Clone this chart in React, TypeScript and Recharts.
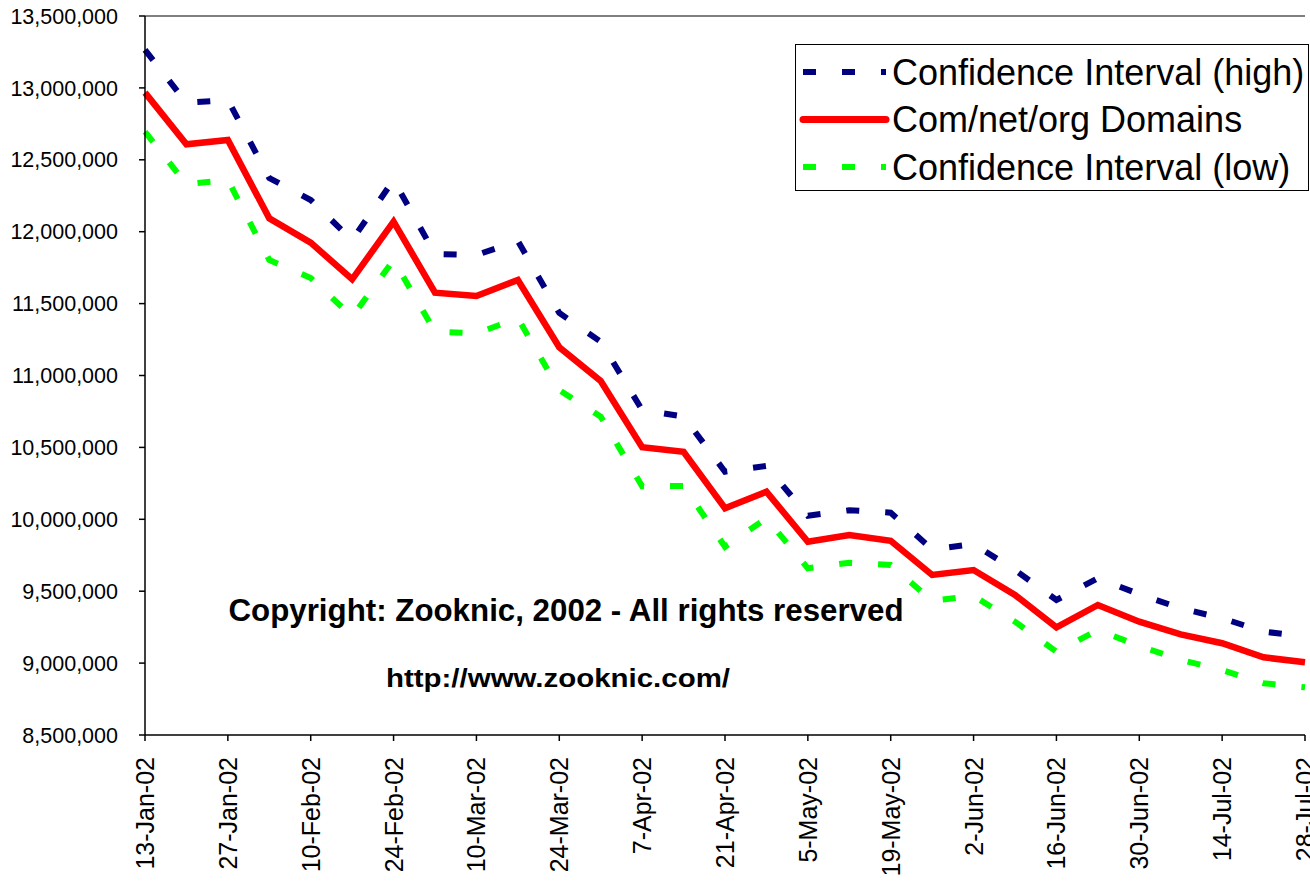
import { LineChart, Line, XAxis, YAxis, ReferenceLine } from "recharts";

// weekly samples, Jan - Jul 2002
const dates = [
  "13-Jan-02", "20-Jan-02", "27-Jan-02", "3-Feb-02", "10-Feb-02", "17-Feb-02", "24-Feb-02",
  "3-Mar-02", "10-Mar-02", "17-Mar-02", "24-Mar-02", "31-Mar-02", "7-Apr-02", "14-Apr-02",
  "21-Apr-02", "28-Apr-02", "5-May-02", "12-May-02", "19-May-02", "26-May-02", "2-Jun-02",
  "9-Jun-02", "16-Jun-02", "23-Jun-02", "30-Jun-02", "7-Jul-02", "14-Jul-02", "21-Jul-02",
  "28-Jul-02",
];

const domains = [
  12967000, 12608000, 12638000, 12093000, 11924000, 11669000, 12070000,
  11576000, 11553000, 11664000, 11196000, 10962000, 10501000, 10470000,
  10077000, 10192000, 9844000, 9891000, 9851000, 9613000, 9647000,
  9474000, 9249000, 9404000, 9288000, 9200000, 9138000, 9040000,
  9006000,
];

const ciHigh = [
  13264000, 12897000, 12916000, 12373000, 12220000, 11942000, 12360000,
  11845000, 11838000, 11935000, 11435000, 11235000, 10760000, 10714000,
  10331000, 10371000, 10025000, 10063000, 10046000, 9791000, 9828000,
  9647000, 9439000, 9590000, 9479000, 9381000, 9312000, 9219000,
  9184000,
];

const ciLow = [
  12695000, 12330000, 12360000, 11803000, 11678000, 11409000, 11803000,
  11305000, 11293000, 11398000, 10899000, 10714000, 10230000, 10232000,
  9809000, 10007000, 9659000, 9698000, 9682000, 9434000, 9467000,
  9288000, 9079000, 9230000, 9119000, 9022000, 8952000, 8860000,
  8832000,
];

const yTicks = [
  8500000, 9000000, 9500000, 10000000, 10500000, 11000000,
  11500000, 12000000, 12500000, 13000000, 13500000,
];

const legendItems = [
  { label: "Confidence Interval (high)", color: "#000080", dash: "13 26", width: 6 },
  { label: "Com/net/org Domains", color: "#FF0000", dash: undefined, width: 7 },
  { label: "Confidence Interval (low)", color: "#00FF00", dash: "13 26", width: 6 },
];

const FONT = "'Liberation Sans', Arial, Helvetica, sans-serif";

const chartData = dates.map((d, i) => ({
  date: d,
  high: ciHigh[i],
  domains: domains[i],
  low: ciLow[i],
}));

const XTick = ({ x, y, payload }: any) => (
  <text
    x={x}
    y={y}
    transform={`rotate(-90 ${x} ${y})`}
    textAnchor="end"
    dominantBaseline="central"
    fontSize={25}
    fontFamily={FONT}
    fill="#000"
  >
    {payload.value}
  </text>
);

const Overlay = () => (
  <svg
    width={1330}
    height={883}
    style={{ position: "absolute", left: 0, top: 0, pointerEvents: "none" }}
  >
    {/* legend box */}
    <rect x={795.5} y={44.5} width={513} height={146} fill="#fff" stroke="#000" strokeWidth={1} />
    {legendItems.map((item, i) => {
      const cy = 72 + i * 47.5;
      return (
        <g key={item.label}>
          <line
            x1={803}
            x2={886}
            y1={cy}
            y2={cy}
            stroke={item.color}
            strokeWidth={item.width}
            strokeDasharray={item.dash}
            strokeLinecap={item.dash ? "butt" : "round"}
          />
          <text x={892} y={cy} dominantBaseline="central" fontSize={36} fontFamily={FONT} fill="#000">
            {item.label}
          </text>
        </g>
      );
    })}
    <text
      x={566}
      y={621}
      textAnchor="middle"
      fontSize={31}
      fontWeight="bold"
      fontFamily={FONT}
      textLength={675}
      lengthAdjust="spacingAndGlyphs"
      fill="#000"
    >
      Copyright: Zooknic, 2002 - All rights reserved
    </text>
    <text
      x={558}
      y={687}
      textAnchor="middle"
      fontSize={25}
      fontWeight="bold"
      fontFamily={FONT}
      textLength={344}
      lengthAdjust="spacingAndGlyphs"
      fill="#000"
    >
      http://www.zooknic.com/
    </text>
  </svg>
);

export default function App() {
  return (
    <div style={{ position: "relative", width: 1330, height: 883, background: "#fff" }}>
      <style>{`body{margin:0;overflow:hidden;background:#fff}`}</style>
      <LineChart
        width={1330}
        height={883}
        data={chartData}
        margin={{ top: 16, right: 25, left: 0, bottom: 0 }}
      >
        <XAxis
          dataKey="date"
          interval={1}
          height={148}
          tickSize={6}
          tickMargin={16}
          tick={<XTick />}
          axisLine={{ stroke: "#000", strokeWidth: 1.5 }}
          tickLine={{ stroke: "#000", strokeWidth: 1.5 }}
        />
        <YAxis
          width={145}
          domain={[8500000, 13500000]}
          ticks={yTicks}
          tickSize={6}
          tickMargin={21}
          tickFormatter={(v: number) => v.toLocaleString("en-US")}
          tick={{ fontSize: 21.5, fontFamily: FONT, fill: "#000" }}
          axisLine={{ stroke: "#000", strokeWidth: 1.5 }}
          tickLine={{ stroke: "#000", strokeWidth: 1.5 }}
        />
        <ReferenceLine y={13500000} stroke="#808080" strokeWidth={2} />
        <Line
          type="linear"
          dataKey="high"
          stroke="#000080"
          strokeWidth={6}
          strokeDasharray="13 26"
          dot={false}
          activeDot={false}
          isAnimationActive={false}
        />
        <Line
          type="linear"
          dataKey="domains"
          stroke="#FF0000"
          strokeWidth={6.5}
          dot={false}
          activeDot={false}
          isAnimationActive={false}
        />
        <Line
          type="linear"
          dataKey="low"
          stroke="#00FF00"
          strokeWidth={6}
          strokeDasharray="13 26"
          dot={false}
          activeDot={false}
          isAnimationActive={false}
        />
      </LineChart>
      <Overlay />
    </div>
  );
}
